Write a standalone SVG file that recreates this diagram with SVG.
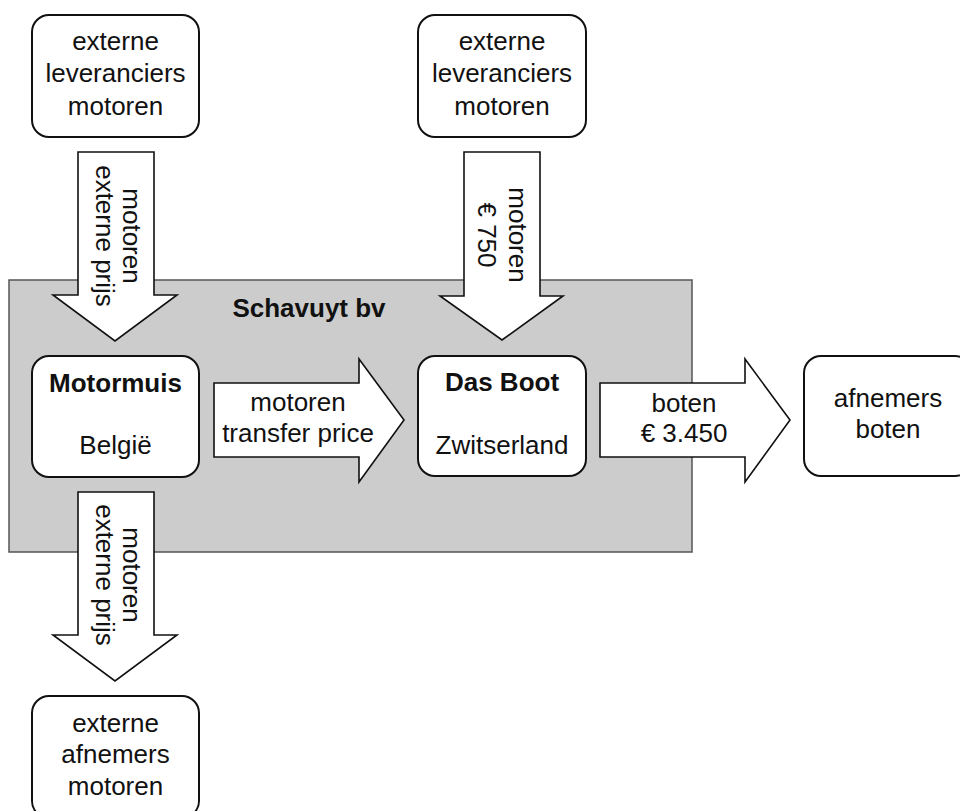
<svg xmlns="http://www.w3.org/2000/svg" width="960" height="811" viewBox="0 0 960 811">
<style>
.box{fill:#fff;stroke:#111;stroke-width:2}
.arr{fill:#fff;stroke:#111;stroke-width:1.6;stroke-linejoin:miter}
.t{font-family:"Liberation Sans",Arial,sans-serif;font-size:26px;fill:#111;text-anchor:middle}
.b{font-weight:bold}
</style>
<rect x="0" y="0" width="960" height="811" fill="#fff"/>
<g id="schavuyt">
<rect x="9" y="280" width="683" height="272" fill="#cccccc" stroke="#555" stroke-width="1.5"/>
<text class="t b" x="309" y="317">Schavuyt bv</text>
</g>
<g id="connectors">
<g id="arrow-top-left">
<polygon class="arr" points="78,152 154,152 154,295 177,295 115,341 53,295 78,295"/>
<text class="t" transform="translate(123,236) rotate(90)"><tspan x="0" y="0">motoren</tspan><tspan x="0" y="27">externe prijs</tspan></text>
</g>
<g id="arrow-top-right">
<polygon class="arr" points="464,152 540,152 540,296 563,296 502,340 440,296 464,296"/>
<text class="t" transform="translate(509,235) rotate(90)"><tspan x="0" y="0">motoren</tspan><tspan x="0" y="31">€ 750</tspan></text>
</g>
<g id="arrow-bottom">
<polygon class="arr" points="78,492 154,492 154,635 177,635 115,681 53,635 78,635"/>
<text class="t" transform="translate(123,575) rotate(90)"><tspan x="0" y="0">motoren</tspan><tspan x="0" y="27">externe prijs</tspan></text>
</g>
<g id="arrow-transfer">
<polygon class="arr" points="214,383 359,383 359,359 404,420 359,482 359,457 214,457"/>
<text class="t" x="298" y="411">motoren</text>
<text class="t" x="298" y="442">transfer price</text>
</g>
<g id="arrow-boten">
<polygon class="arr" points="600,383 745,383 745,359 790,420 745,482 745,457 600,457"/>
<text class="t" x="684" y="412">boten</text>
<text class="t" x="684" y="442">€ 3.450</text>
</g>
</g>
<g id="lev-left">
<rect class="box" x="32" y="15" width="167" height="122" rx="17"/>
<text class="t" x="115.5" y="50">externe</text>
<text class="t" x="115.5" y="82">leveranciers</text>
<text class="t" x="115.5" y="115">motoren</text>
</g>
<g id="lev-right">
<rect class="box" x="418" y="15" width="168" height="122" rx="17"/>
<text class="t" x="502" y="50">externe</text>
<text class="t" x="502" y="82">leveranciers</text>
<text class="t" x="502" y="115">motoren</text>
</g>
<g id="motormuis">
<rect class="box" x="32" y="356" width="167" height="121" rx="17"/>
<text class="t b" x="115.5" y="392">Motormuis</text>
<text class="t" x="115.5" y="454">België</text>
</g>
<g id="dasboot">
<rect class="box" x="418" y="356" width="168" height="120" rx="17"/>
<text class="t b" x="502" y="391">Das Boot</text>
<text class="t" x="502" y="454">Zwitserland</text>
</g>
<g id="afnemers-boten">
<rect class="box" x="804" y="356" width="168" height="120" rx="17"/>
<text class="t" x="888" y="407">afnemers</text>
<text class="t" x="888" y="438">boten</text>
</g>
<g id="afnemers-motoren">
<rect class="box" x="32" y="696" width="167" height="122" rx="17"/>
<text class="t" x="115.5" y="732">externe</text>
<text class="t" x="115.5" y="763">afnemers</text>
<text class="t" x="115.5" y="795">motoren</text>
</g>
</svg>
